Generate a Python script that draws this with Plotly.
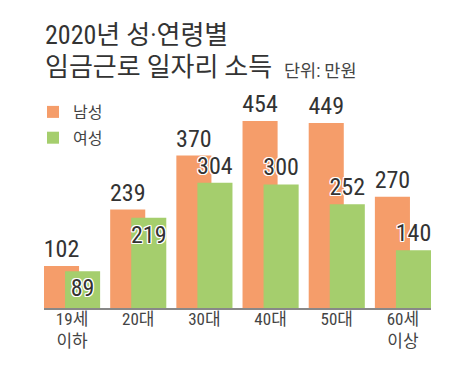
import plotly.graph_objects as go

categories = ["19세<br>이하", "20대", "30대", "40대", "50대", "60세<br>이상"]
male = [102, 239, 370, 454, 449, 270]
female = [89, 219, 304, 300, 252, 140]
series_names = ["남성", "여성"]
title_line1 = "2020년 성·연령별"
title_line2 = "임금근로 일자리 소득"
unit_text = "단위: 만원"

ORANGE = "#F59D6A"
GREEN = "#A5CE6D"
FONT = "'Roboto Condensed', 'Noto Sans CJK KR', sans-serif"
KFONT = "'Noto Sans CJK KR', sans-serif"

# the page body has an 8px margin; coordinates below are in window pixels
OFF = 8
W, H = 462 - OFF, 374 - OFF
PLOT_L, PLOT_R, PLOT_T, BASE = 44, 431, 102, 308
ML = PLOT_L - OFF
MR = W - (PLOT_R - OFF)
MT = PLOT_T - OFF
MB = H - (BASE - OFF)
PW = W - ML - MR
PH = H - MT - MB
YMAX = 500


def px_to_paper_x(px):
    return (px - OFF - ML) / PW


def px_to_paper_y(py):
    return (H - MB - (py - OFF)) / PH


outline = ("1px 1px 0 #fff, -1px -1px 0 #fff, 1px -1px 0 #fff, -1px 1px 0 #fff, "
           "0 1px 0 #fff, 0 -1px 0 #fff, 1px 0 0 #fff, -1px 0 0 #fff")

bw = 0.53
label_font = dict(family=FONT, size=24, color="#333")
green_font = dict(family=FONT, size=24, color="#333", shadow=outline)

fig = go.Figure()
fig.add_trace(go.Bar(
    x=categories, y=male, name=series_names[0], marker_color=ORANGE, marker_line_width=0,
    width=bw, offset=-0.424, text=[str(v) for v in male], textposition="outside",
    textfont=label_font, outsidetextfont=label_font, constraintext="none", cliponaxis=False,
    textangle=0, legendgroup="m",
))
fig.add_trace(go.Bar(
    x=categories, y=female, name=series_names[1], marker_color=GREEN, marker_line_width=0,
    width=bw, offset=-0.424 + 0.318, text=[str(v) for v in female],
    textposition=["inside", "inside", "outside", "outside", "outside", "outside"],
    insidetextanchor="end", textangle=0,
    textfont=green_font, insidetextfont=green_font, outsidetextfont=green_font,
    constraintext="none", cliponaxis=False,
    legendgroup="f",
))

fig.update_layout(
    width=W, height=H, margin=dict(l=ML, r=MR, t=MT, b=MB, autoexpand=False),
    paper_bgcolor="white", plot_bgcolor="white",
    barmode="overlay",
    showlegend=True,
    legend=dict(x=px_to_paper_x(33), y=px_to_paper_y(95), xanchor="left", yanchor="top",
                font=dict(family=KFONT, size=16, color="#444"), tracegroupgap=2,
                bgcolor="rgba(0,0,0,0)"),
    xaxis=dict(range=[-0.424, 5.424], showline=True, linecolor="#888", linewidth=1.5,
               showgrid=False, ticks="", tickfont=dict(family=FONT, size=17, color="#444"),
               ticklabelstandoff=-5, fixedrange=True),
    yaxis=dict(range=[0, YMAX], visible=False, showgrid=False, zeroline=False),
    annotations=[
        dict(text=title_line1, xref="paper", yref="paper", x=px_to_paper_x(43), y=px_to_paper_y(35),
             xanchor="left", yanchor="middle", showarrow=False,
             font=dict(family=FONT, size=26, color="#333")),
        dict(text=title_line2, xref="paper", yref="paper", x=px_to_paper_x(43), y=px_to_paper_y(67),
             xanchor="left", yanchor="middle", showarrow=False,
             font=dict(family=FONT, size=26, color="#333")),
        dict(text=unit_text, xref="paper", yref="paper", x=px_to_paper_x(282), y=px_to_paper_y(71),
             xanchor="left", yanchor="middle", showarrow=False,
             font=dict(family=FONT, size=17.5, color="#444")),
    ],
)

fig.write_html("out.html")
